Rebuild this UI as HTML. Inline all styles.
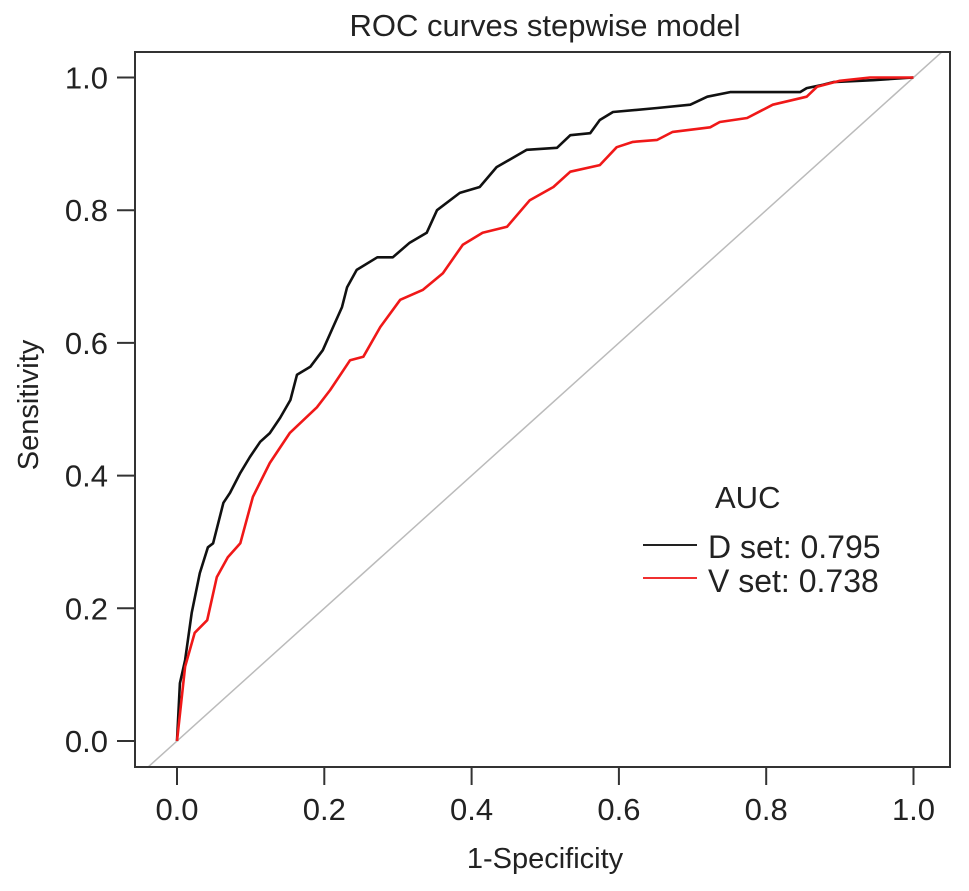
<!DOCTYPE html>
<html><head><meta charset="utf-8"><style>
html,body{margin:0;padding:0;background:#fff;}
svg{display:block;font-family:"Liberation Sans",Arial,sans-serif;}
</style></head><body>
<svg id="chart" width="969" height="891" viewBox="0 0 969 891" xmlns="http://www.w3.org/2000/svg">
<defs><clipPath id="plotclip"><rect x="135" y="52" width="815" height="715"/></clipPath></defs>
<text x="545" y="36" font-size="31" text-anchor="middle" fill="#222">ROC curves stepwise model</text>
<g id="axes"></g>
<g id="series" clip-path="url(#plotclip)"></g>
<rect x="135" y="52" width="815" height="715" fill="none" stroke="#333" stroke-width="2"/>
<text x="545" y="868" font-size="29" text-anchor="middle" fill="#222">1-Specificity</text>
<text transform="translate(38,405) rotate(-90)" font-size="29" text-anchor="middle" fill="#222">Sensitivity</text>
<g>
<text x="715" y="508" font-size="31" fill="#222">AUC</text>
<line x1="643" y1="545" x2="697" y2="545" stroke="#222" stroke-width="2"/>
<text x="708" y="558" font-size="32" fill="#222">D set: 0.795</text>
<line x1="643" y1="578" x2="697" y2="578" stroke="#f03030" stroke-width="2"/>
<text x="708" y="592" font-size="32" fill="#222">V set: 0.738</text>
</g>
</svg>
<script>
const tickValues = [0, 0.2, 0.4, 0.6, 0.8, 1.0];
const tickLabels = ["0.0", "0.2", "0.4", "0.6", "0.8", "1.0"];
const dSetFpr = [0,.004,.011,.020,.031,.042,.049,.063,.072,.086,.099,.113,.126,.140,.154,.163,.181,.198,.212,.224,.231,.244,.272,.293,.316,.339,.353,.384,.411,.434,.475,.516,.534,.561,.574,.592,.652,.697,.720,.751,.846,.855,.877,.891,.945,1];
const dSetTpr = [0,.087,.122,.193,.253,.292,.298,.359,.374,.404,.428,.451,.464,.487,.514,.552,.564,.589,.624,.654,.684,.710,.729,.729,.751,.766,.800,.826,.835,.865,.891,.894,.913,.916,.936,.948,.954,.959,.971,.978,.978,.984,.989,.993,.996,1];
const vSetFpr = [0,.011,.024,.041,.054,.069,.086,.103,.126,.153,.190,.208,.235,.253,.276,.303,.334,.361,.388,.415,.448,.479,.511,.534,.574,.597,.619,.652,.673,.724,.737,.774,.809,.855,.869,.900,.941,1];
const vSetTpr = [0,.112,.163,.182,.247,.277,.298,.368,.419,.464,.503,.529,.574,.579,.624,.665,.680,.705,.748,.766,.775,.815,.835,.858,.868,.895,.903,.906,.918,.925,.933,.939,.959,.971,.986,.995,1,1];

const NS = "http://www.w3.org/2000/svg";
const xs = v => 177 + v * 736.5;
const ys = v => 741 - v * 663.5;
const axes = document.getElementById('axes');
const series = document.getElementById('series');
function mk(tag, attrs, parent){const e=document.createElementNS(NS,tag);for(const k in attrs)e.setAttribute(k,attrs[k]);parent.appendChild(e);return e;}

tickValues.forEach((v,i)=>{
  const t = mk('line',{x1:xs(v),y1:767,x2:xs(v),y2:785,stroke:'#333','stroke-width':2},axes);
  
  
  const l = mk('text',{x:xs(v),y:820,'font-size':31,'text-anchor':'middle',fill:'#222'},axes);
  l.textContent = tickLabels[i];
  
  
  const ty = mk('line',{x1:117,y1:ys(v),x2:135,y2:ys(v),stroke:'#333','stroke-width':2},axes);
  
  
  const ly = mk('text',{x:108,y:ys(v)+11,'font-size':31,'text-anchor':'end',fill:'#222'},axes);
  ly.textContent = tickLabels[i];
  
  
});

const diag = mk('line',{x1:xs(-0.1),y1:ys(-0.1),x2:xs(1.1),y2:ys(1.1),stroke:'#bbb','stroke-width':1.5},series);



function curve(fx, fy, color, name){
  const pts = fx.map((x,i)=>xs(x).toFixed(1)+','+ys(fy[i]).toFixed(1)).join(' ');
  const p = mk('polyline',{points:pts,fill:'none',stroke:color,'stroke-width':2.6,'stroke-linejoin':'round'},series);
  
  
}
curve(dSetFpr, dSetTpr, '#111', 'd-set-roc-curve');
curve(vSetFpr, vSetTpr, '#f01818', 'v-set-roc-curve');
</script>
</body></html>
